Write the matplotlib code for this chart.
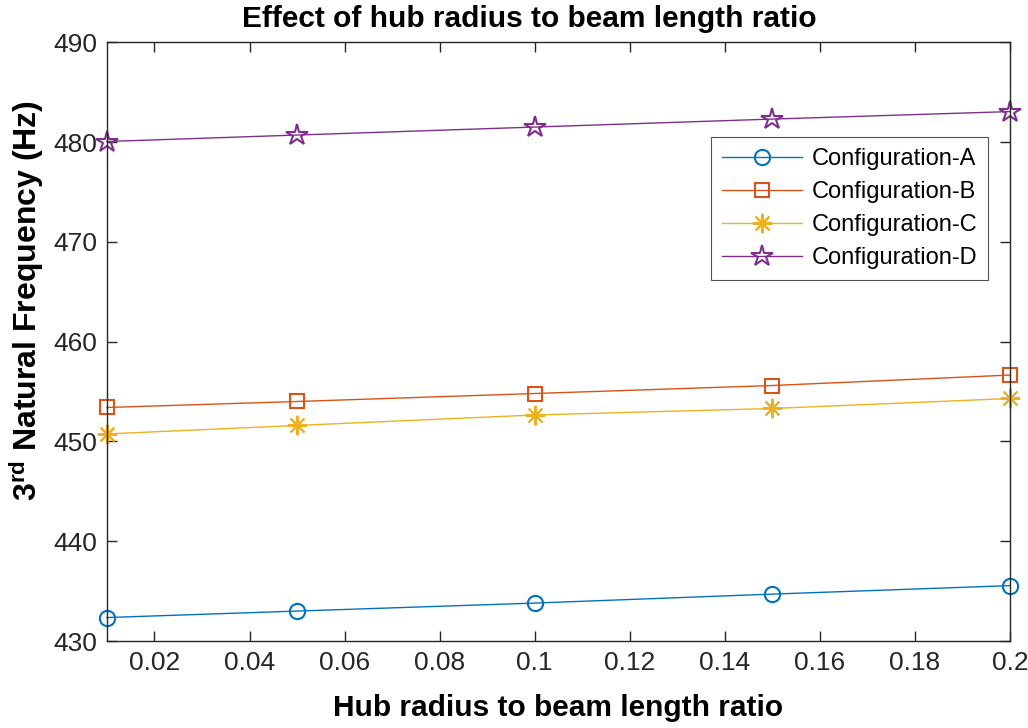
import matplotlib
matplotlib.use('Agg')
import matplotlib.pyplot as plt

plt.rcParams['font.family'] = ['Liberation Sans', 'DejaVu Sans']
plt.rcParams['mathtext.fontset'] = 'custom'
plt.rcParams['mathtext.rm'] = 'Liberation Sans'
plt.rcParams['mathtext.bf'] = 'Liberation Sans:bold'

# hub radius / beam length ratio
ratio = [0.01, 0.05, 0.1, 0.15, 0.2]

# 3rd natural frequency (Hz) for each configuration
freq_a = [432.35, 433.0, 433.8, 434.7, 435.55]
freq_b = [453.4, 454.0, 454.8, 455.6, 456.65]
freq_c = [450.75, 451.6, 452.65, 453.3, 454.3]
freq_d = [480.05, 480.7, 481.5, 482.3, 483.05]

labels = ['Configuration-A', 'Configuration-B', 'Configuration-C', 'Configuration-D']
x_ticks = [0.02, 0.04, 0.06, 0.08, 0.1, 0.12, 0.14, 0.16, 0.18, 0.2]
x_ticklabels = ['0.02', '0.04', '0.06', '0.08', '0.1', '0.12', '0.14', '0.16', '0.18', '0.2']

fig = plt.figure(figsize=(10.28, 7.28), dpi=100)
ax = fig.add_axes([0.104, 0.1195, 0.8785, 0.8225])

# MATLAB-style asterisk (+ and x combined)
asterisk = (8, 2, 0)

ax.plot(ratio, freq_a, '-o', color='#0072BD', lw=1.0, ms=11, mfc='none', mew=1.5, label=labels[0], clip_on=False)
ax.plot(ratio, freq_b, '-s', color='#D95319', lw=1.0, ms=10, mfc='none', mew=1.5, label=labels[1], clip_on=False)
ax.plot(ratio, freq_c, '-', marker=asterisk, color='#EDB120', lw=1.0, ms=14, mew=1.5, label=labels[2], clip_on=False)
ax.plot(ratio, freq_d, '-*', color='#7E2F8E', lw=1.0, ms=16, mfc='none', mew=1.5, label=labels[3], clip_on=False)

ax.set_xlim(0.01, 0.2)
ax.set_ylim(430, 490)
ax.set_xticks(x_ticks)
ax.set_xticklabels(x_ticklabels)
ax.set_yticks(range(430, 491, 10))

ax.tick_params(direction='in', length=7, width=1, labelsize=19, colors='#262626', pad=7,
               top=True, right=True)
for sp in ax.spines.values():
    sp.set_color('#262626')
    sp.set_linewidth(1.0)

ax.set_title('Effect of hub radius to beam length ratio', fontsize=21.5, fontweight='bold',
             x=0.468, pad=11)
ax.set_xlabel('Hub radius to beam length ratio', fontsize=21.5, fontweight='bold', labelpad=14)
ax.set_ylabel(r'$\mathbf{3^{rd}}$ Natural Frequency (Hz)', fontsize=23, fontweight='bold')
ax.yaxis.set_label_coords(-0.067, 0.569)

leg = ax.legend(loc='upper right', bbox_to_anchor=(0.9756, 0.841), fontsize=17, frameon=True,
                fancybox=False, edgecolor='#262626', handlelength=3.4, borderpad=0.45,
                labelspacing=0.47, handletextpad=0.4, borderaxespad=0)
leg.get_frame().set_linewidth(0.8)

fig.savefig('out.png', dpi=100)
